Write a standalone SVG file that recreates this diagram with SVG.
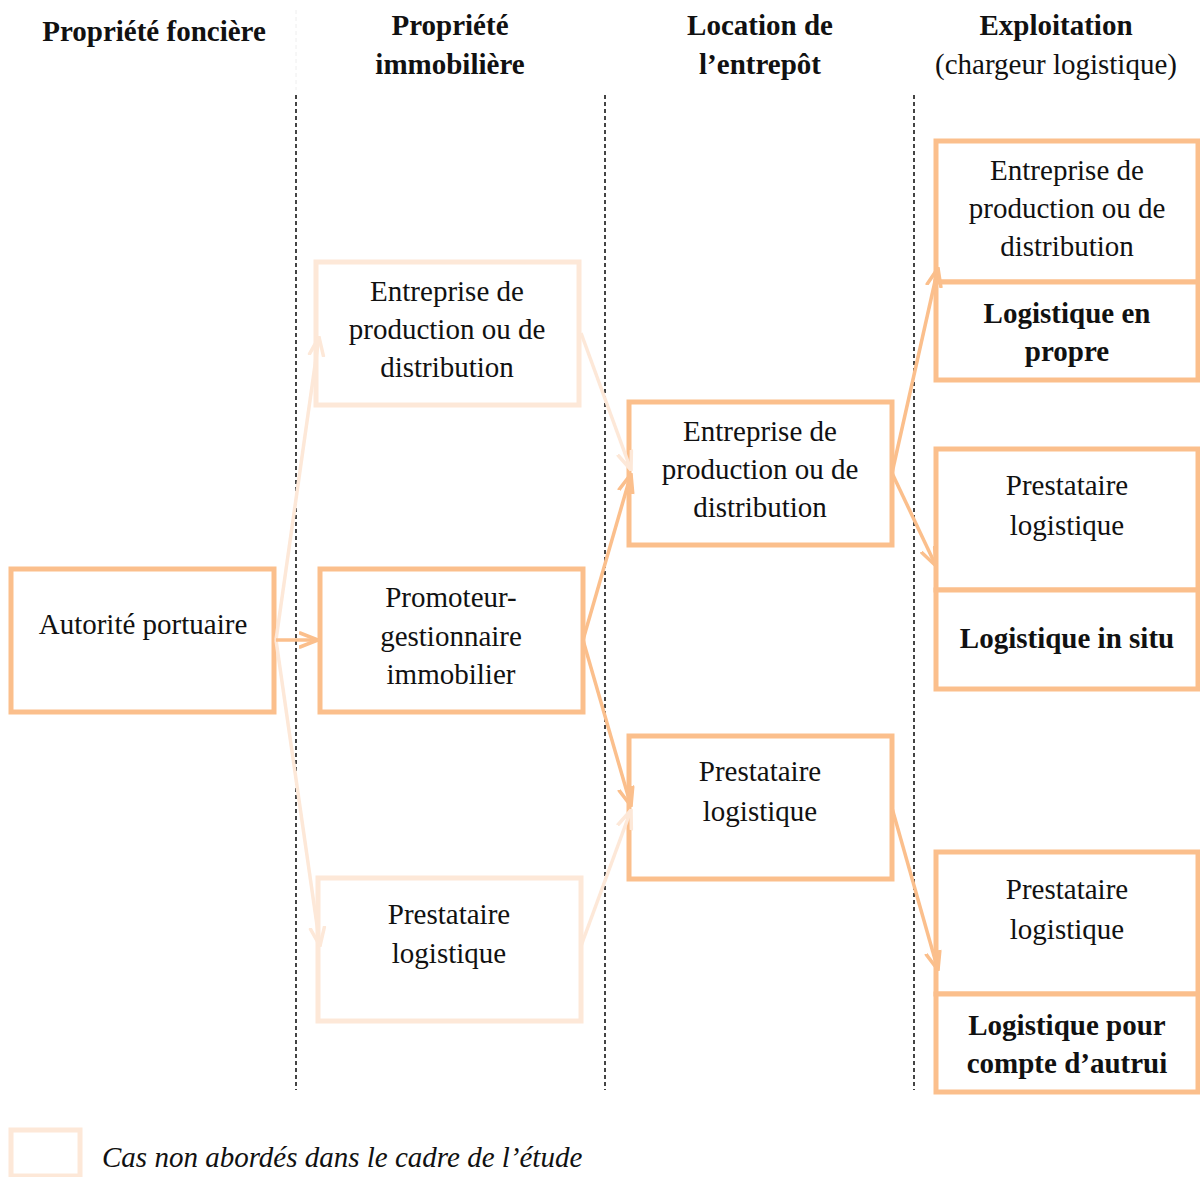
<svg xmlns="http://www.w3.org/2000/svg" width="1200" height="1177" viewBox="0 0 1200 1177">
<style>
.t{font-family:"Liberation Serif","Times New Roman",serif;font-size:29px;fill:#111;text-anchor:middle}
.b{font-weight:bold}
.i{font-style:italic;text-anchor:start}
.box{fill:#fff;stroke:#FBBF8C;stroke-width:5}
.fbox{fill:#fff;stroke:#FDE8D8;stroke-width:5}
.sep{stroke:#444;stroke-width:2;stroke-dasharray:4,3}
.c{fill:none;stroke:#FBBF8C;stroke-width:3.5;marker-end:url(#ah)}
.fc{fill:none;stroke:#FDE8D8;stroke-width:3.5;marker-end:url(#fah)}
</style>
<defs>
<marker id="ah" viewBox="0 0 20 20" refX="19" refY="10" markerWidth="20" markerHeight="20" markerUnits="userSpaceOnUse" orient="auto"><path d="M1,3 L19,10 L1,17" fill="none" stroke="#FBBF8C" stroke-width="3.5" stroke-linecap="round"/></marker>
<marker id="fah" viewBox="0 0 20 20" refX="19" refY="10" markerWidth="20" markerHeight="20" markerUnits="userSpaceOnUse" orient="auto"><path d="M1,3 L19,10 L1,17" fill="none" stroke="#FDE8D8" stroke-width="3.5" stroke-linecap="round"/></marker>
</defs>
<rect width="1200" height="1177" fill="#fff"/>
<g id="headers">
<text class="t b" x="154" y="41">Propriété foncière</text>
<text class="t b" x="450" y="35">Propriété</text>
<text class="t b" x="450" y="74">immobilière</text>
<text class="t b" x="760" y="35">Location de</text>
<text class="t b" x="760" y="74">l’entrepôt</text>
<text class="t b" x="1056" y="35">Exploitation</text>
<text class="t" x="1056" y="74">(chargeur logistique)</text>
</g>
<g id="separators">
<line x1="296" y1="10" x2="296" y2="90" stroke="#eee" stroke-width="1" stroke-dasharray="4,3"/>
<line class="sep" x1="296" y1="95" x2="296" y2="1090"/>
<line class="sep" x1="605" y1="95" x2="605" y2="1090"/>
<line class="sep" x1="914" y1="95" x2="914" y2="1090"/>
</g>
<g id="n-autorite">
<rect class="box" x="11" y="569" width="263" height="143"/>
<text class="t" x="143" y="634">Autorité portuaire</text>
</g>
<g id="n-pi-entreprise">
<rect class="fbox" x="316" y="262" width="263" height="143"/>
<text class="t" x="447" y="301">Entreprise de</text>
<text class="t" x="447" y="339">production ou de</text>
<text class="t" x="447" y="377">distribution</text>
</g>
<g id="n-pi-promoteur">
<rect class="box" x="320" y="569" width="263" height="143"/>
<text class="t" x="451" y="607">Promoteur-</text>
<text class="t" x="451" y="646">gestionnaire</text>
<text class="t" x="451" y="684">immobilier</text>
</g>
<g id="n-pi-prestataire">
<rect class="fbox" x="318" y="878" width="263" height="143"/>
<text class="t" x="449" y="924">Prestataire</text>
<text class="t" x="449" y="963">logistique</text>
</g>
<g id="n-loc-entreprise">
<rect class="box" x="629" y="402" width="263" height="143"/>
<text class="t" x="760" y="441">Entreprise de</text>
<text class="t" x="760" y="479">production ou de</text>
<text class="t" x="760" y="517">distribution</text>
</g>
<g id="n-loc-prestataire">
<rect class="box" x="629" y="736" width="263" height="143"/>
<text class="t" x="760" y="781">Prestataire</text>
<text class="t" x="760" y="821">logistique</text>
</g>
<g id="n-ex-propre">
<rect class="box" x="936" y="141" width="262" height="141"/>
<rect class="box" x="936" y="282" width="262" height="98"/>
<text class="t" x="1067" y="180">Entreprise de</text>
<text class="t" x="1067" y="218">production ou de</text>
<text class="t" x="1067" y="256">distribution</text>
<text class="t b" x="1067" y="323">Logistique en</text>
<text class="t b" x="1067" y="361">propre</text>
</g>
<g id="n-ex-insitu">
<rect class="box" x="936" y="449" width="262" height="141"/>
<rect class="box" x="936" y="590" width="262" height="99"/>
<text class="t" x="1067" y="495">Prestataire</text>
<text class="t" x="1067" y="535">logistique</text>
<text class="t b" x="1067" y="648">Logistique in situ</text>
</g>
<g id="n-ex-autrui">
<rect class="box" x="936" y="852" width="262" height="142"/>
<rect class="box" x="936" y="994" width="262" height="98"/>
<text class="t" x="1067" y="899">Prestataire</text>
<text class="t" x="1067" y="939">logistique</text>
<text class="t b" x="1067" y="1035">Logistique pour</text>
<text class="t b" x="1067" y="1073">compte d’autrui</text>
</g>
<g id="connectors">
<line class="fc" x1="276" y1="640" x2="319" y2="337"/>
<line class="fc" x1="276" y1="640" x2="320" y2="946"/>
<line class="fc" x1="581" y1="333" x2="631" y2="470"/>
<line class="fc" x1="581" y1="946" x2="631" y2="810"/>
<line class="c" x1="276" y1="640" x2="318" y2="640"/>
<line class="c" x1="583" y1="640" x2="631" y2="474"/>
<line class="c" x1="583" y1="640" x2="631" y2="806"/>
<line class="c" x1="892" y1="473" x2="938" y2="268"/>
<line class="c" x1="892" y1="473" x2="936" y2="566"/>
<line class="c" x1="892" y1="808" x2="938" y2="970"/>
</g>
<g id="legend">
<rect class="fbox" x="11" y="1130" width="69" height="46"/>
<text class="t i" x="102" y="1167">Cas non abordés dans le cadre de l’étude</text>
</g>
</svg>
